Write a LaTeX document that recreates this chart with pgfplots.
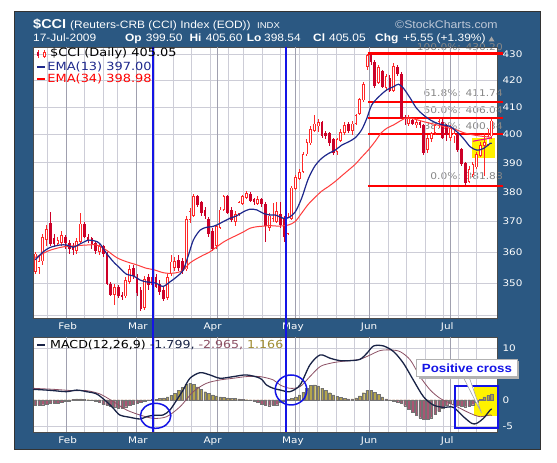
\documentclass[border=0pt]{standalone}
\usepackage{pgfplots}
\pgfplotsset{compat=1.18}
\usepackage{pgfplotstable}
\usepackage{fontspec}
\setmainfont{DejaVu Sans}
\newfontfamily\hdr[FakeStretch=1.12]{Liberation Sans}
\newfontfamily\vd[FakeStretch=1.15]{DejaVu Sans}

\definecolor{frameblue}{RGB}{43,88,130}
\definecolor{candleup}{RGB}{255,40,40}
\definecolor{candledn}{RGB}{205,0,40}
\definecolor{emablue}{RGB}{30,40,140}
\definecolor{emared}{RGB}{255,60,60}
\definecolor{gridc}{RGB}{205,205,215}
\definecolor{gridm}{RGB}{160,160,175}
\definecolor{macdc}{RGB}{25,35,70}
\definecolor{sigc}{RGB}{140,80,100}
\definecolor{histpos}{RGB}{180,165,75}
\definecolor{histneg}{RGB}{170,85,115}
\definecolor{histtxt}{RGB}{160,140,50}
\definecolor{fibtext}{RGB}{135,135,135}
\definecolor{fibred}{RGB}{255,0,0}
\definecolor{annblue}{RGB}{20,20,230}
\definecolor{scgray}{RGB}{190,200,215}

\pgfplotstableread{
u o h l c
-6 353.7 360.0 353.0 359.6
-5 355.0 359.0 353.0 357.0
-4 357.0 366.0 356.0 365.0
-3 364.0 369.0 362.0 367.5
-2 369.4 373.2 362.0 362.5
-1 364.5 366.0 361.5 362.7
0 362.7 365.0 362.0 364.0
1 363.0 367.0 362.0 365.5
2 365.0 365.5 361.0 363.0
3 363.0 364.0 359.5 361.0
4 362.0 363.0 359.0 360.6
5 360.5 364.5 359.5 363.5
6 363.3 373.0 363.0 369.4
7 369.4 370.0 364.5 365.0
8 365.0 366.0 363.0 364.0
9 364.5 365.0 361.0 362.5
10 363.0 363.5 359.5 360.5
11 360.0 363.0 359.0 362.0
12 362.0 362.5 358.5 359.5
13 359.5 360.0 349.5 350.0
14 350.0 350.5 346.0 346.5
15 346.5 350.0 343.3 349.0
16 349.0 349.5 345.5 346.0
17 346.5 347.5 345.0 346.0
18 346.0 352.0 345.5 351.0
19 350.5 356.0 350.0 354.5
20 355.0 356.0 351.5 352.5
21 352.0 353.0 346.0 347.0
22 348.0 349.0 341.5 342.0
23 342.5 352.5 341.8 351.5
24 352.0 353.0 348.0 349.5
25 349.5 353.0 348.5 352.0
26 352.0 353.0 348.5 349.0
27 350.0 351.0 346.5 347.5
28 348.0 349.0 344.5 345.0
29 345.5 353.0 345.0 352.0
30 353.0 359.0 352.5 357.0
31 355.0 358.5 354.0 357.0
32 357.5 359.0 354.0 355.0
33 357.0 358.0 353.0 354.0
34 354.5 372.0 354.0 371.0
35 370.5 374.5 369.5 373.5
36 372.0 379.3 371.5 378.5
37 378.5 379.0 375.0 375.5
38 376.5 377.0 372.0 373.0
39 374.0 375.0 371.0 372.0
40 371.0 371.5 365.0 366.0
41 367.0 368.0 360.5 361.0
42 362.0 369.0 361.0 368.5
43 368.0 375.0 367.5 374.0
44 374.0 379.0 373.5 378.5
45 378.5 379.0 372.5 373.0
46 374.0 375.0 370.0 370.5
47 370.0 373.5 368.5 372.5
48 372.5 377.0 372.0 376.5
49 376.0 379.0 375.5 378.5
50 378.0 380.3 377.5 379.5
51 379.5 380.0 376.5 377.0
52 377.5 378.0 375.5 376.5
53 376.0 378.5 375.5 377.5
54 377.5 378.0 375.0 376.0
55 376.0 376.5 363.3 368.5
56 368.0 373.0 367.0 372.0
57 371.0 376.3 370.0 373.0
58 370.0 376.5 369.5 373.5
59 372.5 376.5 368.0 369.0
60 371.0 372.0 363.5 365.0
61 366.0 373.0 365.5 371.5
62 371.0 382.0 370.5 381.5
63 381.0 386.0 380.5 385.0
64 384.5 388.0 384.0 387.0
65 387.0 394.0 386.5 393.0
66 393.0 398.5 392.5 397.5
67 397.0 403.0 396.5 402.0
68 401.5 407.0 401.0 404.0
69 403.0 405.5 401.0 404.5
70 404.5 405.0 399.0 399.5
71 400.5 401.5 398.5 399.5
72 400.5 401.0 396.0 397.0
73 398.5 399.0 393.0 393.5
74 394.0 399.0 393.0 398.5
75 398.0 402.0 397.5 401.0
76 400.5 404.5 400.0 403.5
77 404.0 404.5 400.5 401.5
78 401.5 405.0 400.0 404.0
79 404.0 407.5 403.5 407.0
80 407.5 413.5 407.0 413.0
81 412.5 419.5 412.0 418.5
82 425.0 430.2 424.0 429.5
83 429.5 430.0 426.0 427.0
84 427.0 427.7 417.0 418.0
85 419.0 426.0 418.5 425.0
86 423.5 424.0 417.0 417.5
87 417.0 422.5 416.0 421.5
88 421.0 422.0 415.5 416.0
89 416.0 426.5 415.5 425.5
90 425.0 425.8 421.5 422.5
91 422.5 423.0 405.5 406.0
92 406.5 407.0 403.5 405.5
93 404.0 407.0 403.0 406.0
94 405.5 406.0 403.5 404.0
95 403.5 406.0 402.5 404.5
96 404.5 405.0 402.5 403.5
97 403.5 404.0 393.0 393.5
98 394.5 400.0 393.5 399.0
99 398.5 401.0 397.5 400.5
100 400.5 404.0 400.0 403.5
101 403.0 406.0 402.5 405.0
102 404.5 405.5 398.5 399.0
103 403.0 404.0 398.0 400.0
104 399.0 403.5 398.0 402.5
105 399.5 401.5 397.0 400.5
106 400.0 400.5 394.0 394.5
107 395.0 395.5 389.0 389.5
108 390.0 390.5 381.9 383.0
109 383.5 389.0 383.0 388.0
110 386.0 390.5 385.0 389.5
111 388.5 394.0 388.0 393.0
112 392.5 397.5 392.0 396.5
113 396.0 400.5 385.5 397.5
114 396.5 402.0 396.0 399.5
115 399.5 405.6 398.54 405.05
}\candles

\pgfplotstableread{
u v
-6 357.5
-3.9 360.1
-2.1 361.5
0.5 362.3
2.3 362.3
4.1 361.6
5.8 362.6
8.1 363.9
9.8 363.6
11.1 362.8
12.9 359.6
14.7 356.9
16.5 354.8
18.2 352.9
20.0 352.4
21.8 351.1
23.5 350.5
25.3 350.3
26.2 350.0
27.9 349.1
29.7 350.5
31.5 352.1
33.2 354.2
34.6 359.0
35.9 363.9
37.7 367.2
39.4 368.1
40.8 368.3
42.1 368.9
43.9 370.0
45.6 371.1
47.4 371.9
49.2 373.3
50.9 374.1
52.7 373.9
54.5 372.7
56.2 372.2
57.6 372.2
59.8 371.1
61.1 371.3
62.9 373.2
64.6 377.8
66.4 384.6
68.2 389.1
69.9 391.6
71.7 393.3
73.5 394.5
75.2 396.3
77.0 397.4
78.8 398.9
80.5 401.7
81.9 405.9
83.2 410.8
85.2 414.0
87.2 416.4
89.0 417.6
90.3 418.5
91.6 417.0
93.4 413.3
95.1 409.5
96.9 407.1
98.7 405.3
100.5 404.1
102.2 403.5
104.0 402.9
105.7 401.1
107.5 398.7
109.3 395.7
111.1 394.5
112.8 395.1
114.6 396.9
115 397.0
}\emaA

\pgfplotstableread{
u v
-6 358.3
-4.8 359.0
-2.1 360.6
1.4 361.7
5.0 362.1
7.6 362.3
10.3 362.3
12.9 360.6
15.6 358.2
18.2 356.9
20.9 355.9
23.5 354.8
25.3 354.4
27.9 353.4
29.7 353.2
31.5 353.4
33.2 354.2
35.0 356.5
36.8 357.9
38.5 359.0
40.3 360.1
42.1 361.7
43.9 363.3
45.6 364.4
47.4 365.5
49.2 366.6
50.9 367.8
52.7 368.3
54.5 368.5
56.2 368.7
58.4 368.5
61.1 368.9
62.9 370.0
64.6 372.8
66.4 375.8
68.2 378.2
69.9 380.2
71.7 381.8
73.5 383.6
75.2 385.5
77.0 387.5
78.8 389.5
80.5 392.0
82.3 394.6
84.1 397.6
85.7 400.6
87.2 402.3
89.0 403.5
90.7 404.9
92.3 406.0
94.0 405.8
95.6 405.2
96.9 404.7
98.7 404.1
100.5 403.5
102.2 402.9
104.0 402.3
105.7 401.7
107.5 400.7
109.3 400.1
111.1 399.7
112.8 399.4
114.6 399.1
115 398.98
}\emaB

\pgfplotstableread{
u v
-6.6 2.05
-3.0 1.9
-1.2 1.8
2.3 1.6
5.0 1.9
7.6 1.6
10.3 1.15
12.9 -0.32
14.7 -1.6
16.4 -2.88
19.1 -3.33
21.75 -3.65
23.5 -3.21
25.3 -2.95
27.9 -2.88
29.7 -1.92
31.5 0.0
33.2 1.92
35.0 4.17
37.7 5.25
40.3 4.81
43.0 4.17
46.5 4.49
50.0 4.81
53.6 4.17
55.3 2.88
57.1 2.24
58.9 1.92
61.5 1.6
64.2 2.88
66.8 6.73
69.5 8.65
72.2 8.01
74.8 7.56
77.5 7.56
80.1 7.82
81.9 8.97
83.7 10.38
86.3 10.38
89.0 9.29
91.6 7.05
94.2 3.85
96.9 0.64
99.5 -0.96
102.2 -1.41
104.8 -1.41
107.5 -3.21
109.7 -4.49
111.0 -4.49
112.8 -3.53
114.6 -1.92
115 -1.799
}\macd

\pgfplotstableread{
u v
-6.6 2.24
-1.2 2.05
4.07 1.79
7.6 1.79
11.15 1.15
14.7 -0.32
18.2 -1.92
21.75 -2.88
25.3 -3.53
28.8 -3.21
32.4 -1.28
35.9 1.6
39.4 3.21
43.0 3.85
46.5 4.17
50.0 4.49
53.6 4.49
57.1 3.85
58.9 2.88
61.5 2.24
64.2 2.56
66.8 4.49
69.5 6.41
72.2 7.05
74.8 7.37
77.5 7.56
80.1 7.82
82.8 8.65
85.4 9.49
88.1 9.62
90.7 9.29
93.4 7.69
96.0 4.49
98.7 1.92
101.3 0.32
104.0 -0.64
106.6 -1.6
109.3 -2.56
111.9 -3.21
114.6 -2.88
115 -2.965
}\signal

\pgfplotstableread{
u m
-6 -1.0
-5 -1.0
-4 -0.9
-3 -0.8
-2 -0.7
-1 -0.6
0 -0.6
1 -0.5
2 -0.3
3 -0.2
4 0.1
5 0.2
6 0.2
7 0.1
8 0.05
9 -0.1
10 -0.3
11 -0.5
12 -0.8
13 -1.0
14 -1.2
15 -1.4
16 -1.6
17 -1.5
18 -1.3
19 -1.0
20 -0.8
21 -0.6
22 -0.4
23 -0.3
24 -0.05
25 0.1
26 0.1
27 0.3
28 0.4
29 0.6
30 0.9
31 1.3
32 1.8
33 2.4
34 3.0
35 3.2
36 3.0
37 2.5
38 2.0
39 1.6
40 1.3
41 1.0
42 0.8
43 0.6
44 0.5
45 0.4
46 0.3
47 0.3
48 0.2
49 0.1
50 0.05
51 -0.05
52 -0.2
53 -0.5
54 -0.8
55 -1.0
56 -1.1
57 -1.0
58 -0.9
59 -0.5
60 -0.2
61 0.1
62 0.3
63 0.6
64 1.0
65 1.5
66 2.2
67 2.8
68 2.9
69 2.7
70 2.3
71 1.8
72 1.4
73 1.0
74 0.7
75 0.5
76 0.3
77 0.2
78 0.2
79 0.4
80 0.8
81 1.4
82 1.9
83 1.8
84 1.5
85 1.1
86 0.6
87 0.2
88 -0.1
89 -0.3
90 -0.4
91 -0.6
92 -1.1
93 -1.7
94 -2.4
95 -3.0
96 -3.4
97 -3.7
98 -3.7
99 -3.4
100 -2.8
101 -2.2
102 -1.5
103 -1.0
104 -0.7
105 -0.8
106 -1.0
107 -1.2
108 -1.3
109 -1.2
110 -0.9
111 -0.4
112 0.1
113 0.6
114 0.9
115 1.166
}\hist

\pgfplotsset{
  common x/.style={
    xmin=-6.6, xmax=116.4,
    scale only axis, width=464bp, clip=false,
    axis line style={black!70, line width=0.5bp},
    xtick={2.6,21.2,41,62.3,82.5,103.2},
    xticklabels={Feb,Mar,Apr,May,Jun,Jul},
    minor xtick={-2.79,7.03,11.93,15.85,25.66,30.57,35.47,40.38,45.28,49.21,54.11,59.02,63.92,68.83,73.73,78.64,87.47,92.37,97.28,102.18,106.11,111.01},
    xminorgrids=true, minor grid style={gridc, line width=0.6bp},
    extra x ticks={2.12,20.76,42.34,62.95,82.58,104.16},
    extra x tick labels={},
    extra x tick style={grid=major, major grid style={gridm, line width=0.7bp}},
    ymajorgrids=true, major grid style={gridc, line width=0.6bp},
    yticklabel pos=right,
    tick style={draw=none},
    ticklabel style={white, font=\vd\fontsize{9.1}{10}\selectfont},
    xticklabel style={yshift=-1bp},
    yticklabel style={xshift=2bp},
  },
  candle/.style={draw=none, mark=none, forget plot,
    error bars/y dir=both, error bars/y explicit, error bars/error mark=none},
}

\begin{document}
\begin{tikzpicture}
\begin{scope}[x=1bp,y=1bp]
\fill[white] (0,0) rectangle (557,463);
\filldraw[fill=frameblue, draw=black!80, line width=1bp] (14,13) rectangle (540,451);
\fill[white] (33,145) rectangle (497,416);
\fill[white] (33,31) rectangle (497,126);
% Fibonacci labels (under the data)
\begin{scope}[every node/.style={anchor=base east, inner sep=0pt, text=fibtext, font=\vd\fontsize{9.3}{10}\selectfont}]
\node at (503,412.3) {100.0\%: 430.20};
\node at (503,366.3) {61.8\%: 411.74};
\node at (503,349) {50.0\%: 406.04};
\node at (503,333) {38.2\%: 400.34};
\node at (503,283.7) {0.0\%: 381.88};
\end{scope}
\end{scope}

% ---------- price panel (log price scale: values plotted as ln(price)) ----------
\begin{axis}[common x,
  at={(33bp,145bp)}, anchor=south west, height=271bp,
  ymin=5.82689, ymax=6.07005,
  ytick={5.82895,5.85793,5.88610,5.91350,5.94017,5.96615,5.99146,6.01616,6.04025,6.06379},
  yticklabels={,350,360,370,380,390,400,410,420,430},
]
\fill[yellow] (axis cs:109.8,5.97050) rectangle (axis cs:115.9,5.98846);
% Fibonacci retracement lines (430.20, 411.74, 406.04, 400.34, 381.88)
\addplot[fibred, line width=2.2bp, forget plot] coordinates {(82.2,6.06426) (118,6.06426)};
\addplot[fibred, line width=2.2bp, forget plot] coordinates {(82.2,6.02040) (118,6.02040)};
\addplot[fibred, line width=2.2bp, forget plot] coordinates {(82.2,6.00645) (118,6.00645)};
\addplot[fibred, line width=2.2bp, forget plot] coordinates {(82.2,5.99231) (118,5.99231)};
\addplot[fibred, line width=2.2bp, forget plot] coordinates {(82.2,5.94511) (118,5.94511)};
% wicks (all), then dark wicks for falling candles
\addplot[candle, error bars/error bar style={draw=candleup, line width=0.8bp}]
  table[x=u, y expr={(ln(\thisrow{h})+ln(\thisrow{l}))/2}, y error expr={(ln(\thisrow{h})-ln(\thisrow{l}))/2}] {\candles};
\addplot[candle, error bars/error bar style={draw=candledn, line width=0.8bp}]
  table[x=u, y expr={(ln(\thisrow{h})+ln(\thisrow{l}))/2},
        y error expr={(ln(\thisrow{h})-ln(\thisrow{l}))/2*max(\thisrow{o}-\thisrow{c},0)/(abs(\thisrow{o}-\thisrow{c})+0.000001)}] {\candles};
% hollow bodies (close above open)
\addplot[candle, error bars/error bar style={draw=candleup, line width=2.7bp}]
  table[x=u, y expr={(ln(\thisrow{o})+ln(\thisrow{c}))/2}, y error expr={max(ln(\thisrow{c})-ln(\thisrow{o}),0)/2}] {\candles};
\addplot[candle, error bars/error bar style={draw=white, line width=1.1bp}]
  table[x=u, y expr={(ln(\thisrow{o})+ln(\thisrow{c}))/2}, y error expr={max((ln(\thisrow{c})-ln(\thisrow{o}))/2-0.0007,0)}] {\candles};
% filled bodies (close below open)
\addplot[candle, error bars/error bar style={draw=candledn, line width=2.7bp}]
  table[x=u, y expr={(ln(\thisrow{o})+ln(\thisrow{c}))/2}, y error expr={max(ln(\thisrow{o})-ln(\thisrow{c}),0)/2}] {\candles};
% EMAs
\addplot[emared, line width=1.0bp, smooth, mark=none] table[x=u, y expr={ln(\thisrow{v})}] {\emaB};
\addplot[emablue, line width=1.2bp, smooth, mark=none] table[x=u, y expr={ln(\thisrow{v})}] {\emaA};
\addplot[magenta, line width=1.0bp, mark=none] coordinates {(110,5.98545) (111.5,5.98645) (113,5.98721) (115,5.98846)};
\end{axis}

% ---------- MACD panel ----------
\begin{axis}[common x,
  at={(33bp,31bp)}, anchor=south west, height=95bp,
  ymin=-6.15, ymax=12.1,
  ytick={-5,0,10}, yticklabels={-5,0,10},
]
\fill[yellow] (axis cs:110.2,-3.08) rectangle (axis cs:116.5,2.56);
\addplot[ybar, bar shift=0pt, bar width=2.5bp, fill=histpos, draw=black!55, line width=0.3bp, forget plot]
  table[x=u, y expr={max(\thisrow{m},0)}] {\hist};
\addplot[ybar, bar shift=0pt, bar width=2.5bp, fill=histneg, draw=black!55, line width=0.3bp, forget plot]
  table[x=u, y expr={min(\thisrow{m},0)}] {\hist};
\addplot[sigc, line width=0.8bp, smooth, mark=none] table[x=u,y=v] {\signal};
\addplot[macdc, line width=1.3bp, smooth, mark=none] table[x=u,y=v] {\macd};
\draw[annblue, line width=1.5bp] (axis cs:25.9,-3.04) ellipse [x radius=15.2bp, y radius=12.5bp];
\draw[annblue, line width=1.5bp] (axis cs:61.8,1.92) ellipse [x radius=15.8bp, y radius=15bp];
\draw[annblue, line width=1.6bp] (axis cs:105.3,-5.38) rectangle (axis cs:116.7,2.69);
\end{axis}

\begin{scope}[x=1bp,y=1bp]
% blue vertical marker lines
\draw[annblue, line width=1.1bp] (153,416) -- (153,31);
\draw[annblue, line width=1.1bp] (286,416) -- (286,31);

% callout
\filldraw[fill=white, draw=gray!70, line width=0.6bp] (463,86.3) -- (481.5,50) -- (469,86.3) -- cycle;
\fill[gray!60] (418.7,84.3) rectangle (519.3,101.7);
\filldraw[fill=white, draw=gray!60, line width=0.8bp] (416.7,86.3) rectangle (517.3,103.7);
\node[text=annblue, inner sep=0pt, font=\hdr\bfseries\fontsize{11.9}{13}\selectfont] at (467,95) {Positive cross};

% header
\begin{scope}[every node/.style={anchor=base west, inner sep=0pt, text=white}]
\node[font=\hdr\bfseries\fontsize{13}{15}\selectfont] at (33,434.7) {\$CCI};
\node[font=\hdr\fontsize{10.7}{12}\selectfont] at (70,434.7) {(Reuters-CRB (CCI) Index (EOD))};
\node[font=\hdr\fontsize{8.5}{10}\selectfont] at (257,434.7) {INDX};
\node[font=\hdr\fontsize{11}{12}\selectfont, text=scgray] at (395,434.7) {©StockCharts.com};
\node[font=\hdr\fontsize{10.7}{12}\selectfont] at (33,421) {17-Jul-2009};
\node[font=\hdr\bfseries\fontsize{10.7}{12}\selectfont] at (125,421) {Op};
\node[font=\hdr\fontsize{10.7}{12}\selectfont] at (145.7,421) {399.50};
\node[font=\hdr\bfseries\fontsize{10.7}{12}\selectfont] at (189.3,421) {Hi};
\node[font=\hdr\fontsize{10.7}{12}\selectfont] at (205.7,421) {405.60};
\node[font=\hdr\bfseries\fontsize{10.7}{12}\selectfont] at (246.7,421) {Lo};
\node[font=\hdr\fontsize{10.7}{12}\selectfont] at (264,421) {398.54};
\node[font=\hdr\bfseries\fontsize{10.7}{12}\selectfont] at (313,421) {Cl};
\node[font=\hdr\fontsize{10.7}{12}\selectfont] at (329,421) {405.05};
\node[font=\hdr\bfseries\fontsize{10.7}{12}\selectfont] at (375,421) {Chg};
\node[font=\hdr\fontsize{10.7}{12}\selectfont] at (403,421) {+5.55 (+1.39\%)};
\end{scope}
\fill[gray!70] (488.5,421.5) -- (494.5,421.5) -- (491.5,426.5) -- cycle;

% price legend
\draw[candleup, line width=0.6bp] (38,404.5) -- (38,413) (44,405) -- (44,412.5);
\fill[candledn] (36.8,406.5) rectangle (39.2,411);
\filldraw[draw=candleup, fill=white, line width=0.6bp] (42.8,407) rectangle (45.2,411);
\node[anchor=base west, inner sep=0pt, text=black, font=\vd\fontsize{11.3}{12}\selectfont] at (50,406) {\$CCI (Daily) 405.05};
\draw[emablue, line width=1.6bp] (37,396) -- (45,396);
\node[anchor=base west, inner sep=0pt, text=emablue, font=\vd\fontsize{11.3}{12}\selectfont] at (47.3,392.3) {EMA(13) 397.00};
\draw[red, line width=1.6bp] (37,384) -- (45,384);
\node[anchor=base west, inner sep=0pt, text=red, font=\vd\fontsize{11.3}{12}\selectfont] at (47.3,380) {EMA(34) 398.98};

% MACD legend
\draw[macdc, line width=1.6bp] (37,118) -- (45,118);
\node[anchor=base west, inner sep=0pt, font=\vd\fontsize{11}{12}\selectfont] at (50,114)
  {\textcolor{black}{MACD(12,26,9)} \textcolor{macdc}{-1.799,} \textcolor{sigc}{-2.965,} \textcolor{histtxt}{1.166}};
\end{scope}
\end{tikzpicture}
\end{document}
